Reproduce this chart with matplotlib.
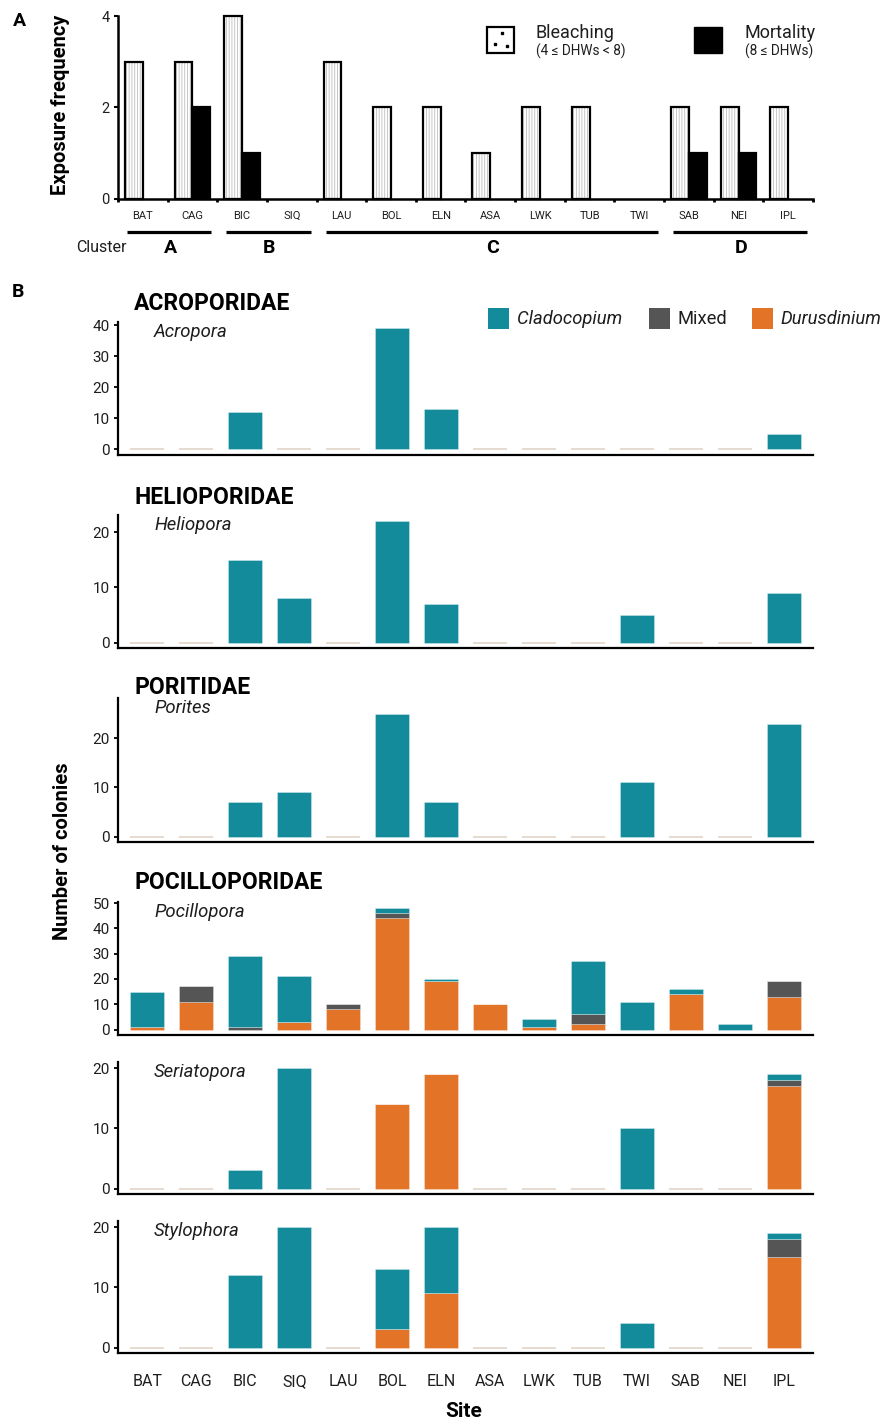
import numpy as np
import matplotlib.pyplot as plt
from matplotlib.patches import Rectangle
from matplotlib.ticker import MultipleLocator
from matplotlib.transforms import blended_transform_factory

plt.rcParams['font.family'] = ['Roboto', 'DejaVu Sans']
plt.rcParams['hatch.linewidth'] = 0.6

# ---- data ----
sites = ['BAT', 'CAG', 'BIC', 'SIQ', 'LAU', 'BOL', 'ELN', 'ASA', 'LWK', 'TUB', 'TWI', 'SAB', 'NEI', 'IPL']
clusters = ['A', 'A', 'B', 'B', 'C', 'C', 'C', 'C', 'C', 'C', 'C', 'D', 'D', 'D']
bleaching = [3, 3, 4, 0, 3, 2, 2, 1, 2, 2, 0, 2, 2, 2]
mortality = [0, 2, 1, 0, 0, 0, 0, 0, 0, 0, 0, 1, 1, 0]

families = ['ACROPORIDAE', 'HELIOPORIDAE', 'PORITIDAE', 'POCILLOPORIDAE', None, None]
genera = ['Acropora', 'Heliopora', 'Porites', 'Pocillopora', 'Seriatopora', 'Stylophora']

# colonies per site: Cladocopium / Mixed / Durusdinium
clado = [
    [0, 0, 12, 0, 0, 39, 13, 0, 0, 0, 0, 0, 0, 5],
    [0, 0, 15, 8, 0, 22, 7, 0, 0, 0, 5, 0, 0, 9],
    [0, 0, 7, 9, 0, 25, 7, 0, 0, 0, 11, 0, 0, 23],
    [14, 0, 28, 18, 0, 2, 1, 0, 3, 21, 11, 2, 2, 0],
    [0, 0, 3, 20, 0, 0, 0, 0, 0, 0, 10, 0, 0, 1],
    [0, 0, 12, 20, 0, 10, 11, 0, 0, 0, 4, 0, 0, 1],
]
mixed = [
    [0] * 14,
    [0] * 14,
    [0] * 14,
    [0, 6, 1, 0, 2, 2, 0, 0, 0, 4, 0, 0, 0, 6],
    [0, 0, 0, 0, 0, 0, 0, 0, 0, 0, 0, 0, 0, 1],
    [0, 0, 0, 0, 0, 0, 0, 0, 0, 0, 0, 0, 0, 3],
]
duru = [
    [0] * 14,
    [0] * 14,
    [0] * 14,
    [1, 11, 0, 3, 8, 44, 19, 10, 1, 2, 0, 14, 0, 13],
    [0, 0, 0, 0, 0, 14, 19, 0, 0, 0, 0, 0, 0, 17],
    [0, 0, 0, 0, 0, 3, 9, 0, 0, 0, 0, 0, 0, 15],
]

c_clado = '#138b9b'
c_mixed = '#555555'
c_duru = '#e37327'
c_zero = '#e4d8cd'
txt = '#1e1e1e'

W, H = 882, 1421
fig = plt.figure(figsize=(W / 100, H / 100), dpi=100)


def add_ax(left, top, right, bottom):
    return fig.add_axes([left / W, 1 - bottom / H, (right - left) / W, (bottom - top) / H])


def ftext(x, y, s, **kw):
    fig.text(x / W, 1 - y / H, s, **kw)


def fbox(x0, y0, x1, y1, **kw):
    fig.add_artist(Rectangle((x0 / W, 1 - y1 / H), (x1 - x0) / W, (y1 - y0) / H,
                             transform=fig.transFigure, **kw))


x = np.arange(len(sites))

# ---- panel A ----
axA = add_ax(118, 16, 813, 198.5)
bl = np.array(bleaching)
mo = np.array(mortality)
xb, xm = x[bl > 0], x[mo > 0]
axA.bar(xb - 0.18, bl[bl > 0], width=0.36, color='white', edgecolor='#bdbdbd',
        hatch='||||||', lw=0, clip_on=False)
axA.bar(xb - 0.18, bl[bl > 0], width=0.36, facecolor='none', edgecolor='black',
        lw=1.6, clip_on=False)
axA.bar(xm + 0.18, mo[mo > 0], width=0.36, color='black', edgecolor='black',
        lw=1.6, clip_on=False)
axA.set_xlim(-0.5, len(sites) - 0.5)
axA.set_ylim(0, 4)
axA.set_yticks([0, 2, 4])
for s in ['top', 'right']:
    axA.spines[s].set_visible(False)
for s in ['left', 'bottom']:
    axA.spines[s].set_linewidth(1.8)
axA.set_xticks(np.arange(-0.5, len(sites)), [''] * (len(sites) + 1))
axA.set_xticks(x, sites, minor=True)
axA.tick_params(axis='x', which='major', length=2.5, width=2)
axA.tick_params(axis='x', which='minor', length=0, pad=9, labelsize=8, labelcolor=txt)
axA.tick_params(axis='y', length=3, width=1.5, pad=3, labelsize=10.5, labelcolor=txt)

# clusters below the axis
trA = blended_transform_factory(axA.transData, fig.transFigure)
for cl in ['A', 'B', 'C', 'D']:
    idx = [i for i, c in enumerate(clusters) if c == cl]
    axA.plot([idx[0] - 0.32, idx[-1] + 0.38], [1 - 232.3 / H] * 2, color='black',
             lw=2.3, transform=trA, clip_on=False, solid_capstyle='butt')
    axA.text(np.mean(idx) + 0.05, 1 - 248 / H, cl, transform=trA, ha='center',
             va='center', fontsize=14, fontweight='bold')
ftext(101, 248, 'Cluster', ha='center', va='center', fontsize=11.5, color=txt)

ftext(60, 105, 'Exposure frequency', rotation=90, ha='center', va='center',
      fontsize=14.5, fontweight='bold')
ftext(19, 21, 'A', ha='center', va='center', fontsize=14, fontweight='bold')

# legend A
fbox(487, 26.5, 514, 52.5, facecolor='white', edgecolor='black', lw=1.6)
for dx, dy in [(502, 33), (495, 44), (507, 46)]:
    fig.add_artist(plt.Line2D([dx / W], [1 - dy / H], marker='s', ms=2, color='black',
                              transform=fig.transFigure))
fbox(694, 27, 722, 53, facecolor='black', edgecolor='black', lw=1)
ftext(535.5, 33, 'Bleaching', ha='left', va='center', fontsize=13, color=txt)
ftext(535.5, 51, '(4 ≤ DHWs < 8)', ha='left', va='center', fontsize=9.8, color=txt)
ftext(745, 33, 'Mortality', ha='left', va='center', fontsize=13, color=txt)
ftext(745, 51, '(8 ≤ DHWs)', ha='left', va='center', fontsize=9.8, color=txt)

# ---- panel B ----
tops = [322, 515, 698, 902, 1062, 1221]
bottoms = [455, 648, 842, 1035, 1194, 1353]
ymaxs = [41, 23.1, 28.2, 50.4, 21, 21]
title_y = [303, 497, 688, 883]

for k in range(6):
    ax = add_ax(118, tops[k], 813, bottoms[k])
    cl = np.array(clado[k])
    mx = np.array(mixed[k])
    du = np.array(duru[k])
    edge = (1, 1, 1, 0.35)
    ax.bar(x, du, width=0.7, color=c_duru, edgecolor=edge, lw=0.6)
    ax.bar(x, mx, width=0.7, bottom=du, color=c_mixed, edgecolor=edge, lw=0.6)
    ax.bar(x, cl, width=0.7, bottom=du + mx, color=c_clado, edgecolor=edge, lw=0.6)
    total = cl + mx + du
    zero = x[total == 0]
    ax.hlines(np.zeros(len(zero)), zero - 0.35, zero + 0.35, color=c_zero, lw=1.3)

    h = bottoms[k] - tops[k]
    ymin = -ymaxs[k] * 5.5 / (h - 5.5)
    ax.set_ylim(ymin, ymaxs[k])
    ax.set_xlim(-0.6, len(sites) - 0.4)
    ax.yaxis.set_major_locator(MultipleLocator(10))
    for s in ['top', 'right']:
        ax.spines[s].set_visible(False)
    for s in ['left', 'bottom']:
        ax.spines[s].set_linewidth(1.6)
    ax.tick_params(axis='y', length=3, width=1.3, pad=3, labelsize=11, labelcolor=txt)
    if k == 5:
        ax.set_xticks(x, sites)
        ax.tick_params(axis='x', length=0, pad=15, labelsize=11.5, labelcolor=txt)
    else:
        ax.set_xticks([])
    ax.text(36 / 695, 1 - 10 / h, genera[k], transform=ax.transAxes, ha='left',
            va='center', fontsize=13.3, fontstyle='italic', color=txt)
    if families[k]:
        ftext(134, title_y[k], families[k], ha='left', va='center', fontsize=16.5,
              fontweight='bold')

ftext(18, 292, 'B', ha='center', va='center', fontsize=14, fontweight='bold')
ftext(62, 851, 'Number of colonies', rotation=90, ha='center', va='center',
      fontsize=14.5, fontweight='bold')
ftext(464, 1411.5, 'Site', ha='center', va='center', fontsize=15, fontweight='bold')

# legend B
for x0, col, lab, it in [(488, c_clado, 'Cladocopium', True),
                         (649, c_mixed, 'Mixed', False),
                         (752, c_duru, 'Durusdinium', True)]:
    fbox(x0, 308, x0 + 21, 329, facecolor=col, edgecolor='none')
    ftext(x0 + 28.5, 319, lab, ha='left', va='center', fontsize=13.2,
          fontstyle='italic' if it else 'normal', color=txt)

fig.savefig('out.png', dpi=100)
